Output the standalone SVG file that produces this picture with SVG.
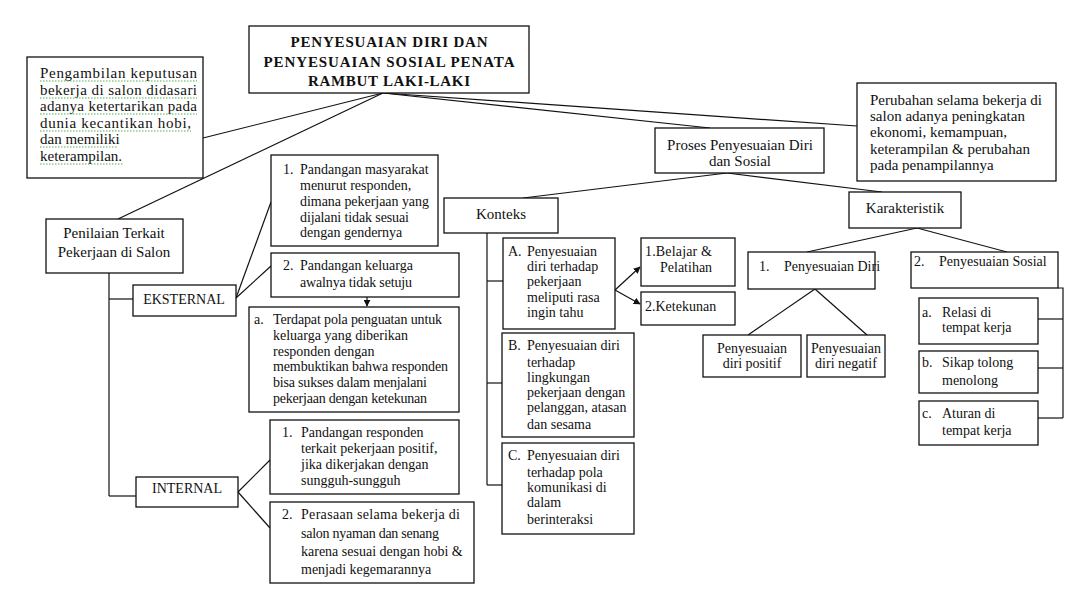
<svg xmlns="http://www.w3.org/2000/svg" width="1090" height="594" viewBox="0 0 1090 594">
<defs>
<style>
rect{fill:#fff;stroke:#111;stroke-width:1.3}
text{font-family:"Liberation Serif","Times New Roman",serif;fill:#111;font-size:14px}
.t15{font-size:15px}
.title{font-size:15px;font-weight:bold}
.c{text-anchor:middle}
#connectors line,#connectors polyline{stroke:#111;stroke-width:1.2;fill:none}
.sp{stroke:#4caf50;stroke-width:1;stroke-dasharray:1.5 1.5;fill:none}
</style>
<marker id="ah" viewBox="0 0 10 10" refX="9" refY="5" markerWidth="7" markerHeight="7" orient="auto" markerUnits="userSpaceOnUse">
<path d="M0,0 L10,5 L0,10 z" fill="#111"/>
</marker>
</defs>
<rect x="0" y="0" width="1090" height="594" style="fill:#fff;stroke:none"/>

<g id="connectors">
<line x1="383" y1="93" x2="203" y2="138"/>
<line x1="383" y1="93" x2="118" y2="219"/>
<line x1="383" y1="93" x2="710" y2="128"/>
<line x1="383" y1="93" x2="857" y2="126"/>
<line x1="727" y1="173" x2="523" y2="198"/>
<line x1="727" y1="173" x2="882" y2="192"/>
<line x1="917" y1="228" x2="807" y2="252"/>
<line x1="917" y1="228" x2="1007" y2="252"/>
<line x1="815" y1="289" x2="748" y2="335"/>
<line x1="815" y1="289" x2="867" y2="335"/>
<polyline points="1058,288 1063,288 1063,418"/>
<line x1="1038" y1="319" x2="1063" y2="319"/>
<line x1="1038" y1="368" x2="1063" y2="368"/>
<line x1="1038" y1="418" x2="1063" y2="418"/>
<line x1="487" y1="233" x2="487" y2="485"/>
<line x1="487" y1="281" x2="503" y2="281"/>
<line x1="487" y1="383" x2="502" y2="383"/>
<line x1="487" y1="485" x2="502" y2="485"/>
<line x1="615" y1="290" x2="640" y2="267" marker-end="url(#ah)"/>
<line x1="615" y1="290" x2="640" y2="304" marker-end="url(#ah)"/>
<line x1="109" y1="273" x2="109" y2="496"/>
<line x1="109" y1="299" x2="133" y2="299"/>
<line x1="109" y1="496" x2="136" y2="496"/>
<line x1="236" y1="298" x2="271" y2="202"/>
<line x1="236" y1="298" x2="271" y2="266"/>
<line x1="238" y1="492" x2="270" y2="460"/>
<line x1="238" y1="492" x2="270" y2="528"/>
<line x1="367" y1="297" x2="367" y2="306" marker-end="url(#ah)"/>
</g>

<g id="title">
<rect x="249" y="26" width="280" height="67"/>
<text class="title c" x="389" y="47" textLength="197" lengthAdjust="spacing">PENYESUAIAN DIRI DAN</text>
<text class="title c" x="389" y="67" textLength="251" lengthAdjust="spacing">PENYESUAIAN SOSIAL PENATA</text>
<text class="title c" x="389" y="86" textLength="162" lengthAdjust="spacing">RAMBUT LAKI-LAKI</text>
</g>

<g id="keputusan">
<rect x="27" y="57" width="176" height="121"/>
<text class="t15" x="40" y="78" textLength="157" lengthAdjust="spacing">Pengambilan keputusan</text>
<text class="t15" x="40" y="95" textLength="157" lengthAdjust="spacing">bekerja di salon didasari</text>
<text class="t15" x="40" y="111" textLength="157" lengthAdjust="spacing">adanya ketertarikan pada</text>
<text class="t15" x="40" y="128" textLength="151" lengthAdjust="spacing">dunia kecantikan hobi,</text>
<text class="t15" x="40" y="144">dan memiliki</text>
<text class="t15" x="40" y="161">keterampilan.</text>
<path class="sp" d="M40,81H197M40,98H197M40,114H197M40,131H191M40,147H117M40,164H123"/>
</g>

<g id="perubahan">
<rect x="857" y="83" width="199" height="98"/>
<text class="t15" x="870" y="105">Perubahan selama bekerja di</text>
<text class="t15" x="870" y="121">salon adanya peningkatan</text>
<text class="t15" x="870" y="137">ekonomi, kemampuan,</text>
<text class="t15" x="870" y="154">keterampilan &amp; perubahan</text>
<text class="t15" x="870" y="170">pada penampilannya</text>
</g>

<g id="proses">
<rect x="655" y="128" width="169" height="45"/>
<text class="t15 c" x="740" y="150">Proses Penyesuaian Diri</text>
<text class="t15 c" x="740" y="166">dan Sosial</text>
</g>

<g id="konteks">
<rect x="444" y="198" width="114" height="35"/>
<text class="t15 c" x="501" y="219">Konteks</text>
</g>

<g id="karakteristik">
<rect x="849" y="192" width="112" height="36"/>
<text class="t15 c" x="905" y="213">Karakteristik</text>
</g>

<g id="penilaian">
<rect x="46" y="219" width="137" height="54"/>
<text class="t15 c" x="114" y="238">Penilaian Terkait</text>
<text class="t15 c" x="114" y="257">Pekerjaan di Salon</text>
</g>

<g id="eksternal">
<rect x="133" y="285" width="103" height="31"/>
<text class="c" x="184" y="304">EKSTERNAL</text>
</g>

<g id="internal">
<rect x="136" y="477" width="102" height="30"/>
<text class="c" x="187" y="493">INTERNAL</text>
</g>

<g id="eks1">
<rect x="271" y="155" width="167" height="91"/>
<text x="283" y="174">1.</text>
<text x="300" y="174">Pandangan masyarakat</text>
<text x="300" y="190">menurut responden,</text>
<text x="300" y="206" textLength="129" lengthAdjust="spacing">dimana pekerjaan yang</text>
<text x="300" y="222" textLength="109" lengthAdjust="spacing">dijalani tidak sesuai</text>
<text x="300" y="237">dengan gendernya</text>
</g>

<g id="eks2">
<rect x="271" y="253" width="188" height="44"/>
<text x="283" y="270">2.</text>
<text x="300" y="270">Pandangan keluarga</text>
<text x="300" y="287" textLength="112" lengthAdjust="spacing">awalnya tidak setuju</text>
</g>

<g id="eksa">
<rect x="249" y="307" width="210" height="105"/>
<text x="254" y="324">a.</text>
<text x="273" y="324" textLength="169" lengthAdjust="spacing">Terdapat pola penguatan untuk</text>
<text x="273" y="340">keluarga yang diberikan</text>
<text x="273" y="356">responden dengan</text>
<text x="273" y="371" textLength="175" lengthAdjust="spacing">membuktikan bahwa responden</text>
<text x="273" y="387" textLength="154" lengthAdjust="spacing">bisa sukses dalam menjalani</text>
<text x="273" y="403" textLength="154" lengthAdjust="spacing">pekerjaan dengan ketekunan</text>
</g>

<g id="int1">
<rect x="270" y="420" width="189" height="74"/>
<text x="282" y="437">1.</text>
<text x="301" y="437">Pandangan responden</text>
<text x="301" y="453">terkait pekerjaan positif,</text>
<text x="301" y="469">jika dikerjakan dengan</text>
<text x="301" y="485">sungguh-sungguh</text>
</g>

<g id="int2">
<rect x="270" y="502" width="204" height="81"/>
<text x="282" y="519">2.</text>
<text x="301" y="519" textLength="159" lengthAdjust="spacing">Perasaan selama bekerja di</text>
<text x="301" y="538" textLength="138" lengthAdjust="spacing">salon nyaman dan senang</text>
<text x="301" y="556">karena sesuai dengan hobi &amp;</text>
<text x="301" y="574">menjadi kegemarannya</text>
</g>

<g id="kA">
<rect x="503" y="238" width="112" height="91"/>
<text x="508" y="256">A.</text>
<text x="527" y="256">Penyesuaian</text>
<text x="527" y="271">diri terhadap</text>
<text x="527" y="286">pekerjaan</text>
<text x="527" y="302">meliputi rasa</text>
<text x="527" y="317">ingin tahu</text>
</g>

<g id="kB">
<rect x="502" y="333" width="132" height="104"/>
<text x="508" y="350">B.</text>
<text x="527" y="350">Penyesuaian diri</text>
<text x="527" y="367">terhadap</text>
<text x="527" y="382">lingkungan</text>
<text x="527" y="397">pekerjaan dengan</text>
<text x="527" y="412">pelanggan, atasan</text>
<text x="527" y="429">dan sesama</text>
</g>

<g id="kC">
<rect x="502" y="443" width="132" height="91"/>
<text x="508" y="460">C.</text>
<text x="527" y="460">Penyesuaian diri</text>
<text x="527" y="477">terhadap pola</text>
<text x="527" y="492">komunikasi di</text>
<text x="527" y="507">dalam</text>
<text x="527" y="524">berinteraksi</text>
</g>

<g id="belajar">
<rect x="641" y="238" width="94" height="48"/>
<text x="645" y="256" textLength="67" lengthAdjust="spacing">1.Belajar &amp;</text>
<text x="660" y="272">Pelatihan</text>
</g>

<g id="ketekunan">
<rect x="641" y="292" width="94" height="33"/>
<text x="645" y="311">2.Ketekunan</text>
</g>

<g id="diri">
<rect x="748" y="252" width="127" height="37"/>
<text x="759" y="271">1.</text>
<text x="784" y="271">Penyesuaian Diri</text>
</g>

<g id="sosial">
<rect x="911" y="252" width="147" height="36"/>
<text x="914" y="266">2.</text>
<text x="939" y="266">Penyesuaian Sosial</text>
</g>

<g id="positif">
<rect x="703" y="335" width="98" height="42"/>
<text class="c" x="752" y="353">Penyesuaian</text>
<text class="c" x="752" y="368">diri positif</text>
</g>

<g id="negatif">
<rect x="807" y="335" width="78" height="42"/>
<text class="c" x="846" y="353">Penyesuaian</text>
<text class="c" x="846" y="368">diri negatif</text>
</g>

<g id="sa">
<rect x="919" y="298" width="119" height="46"/>
<text x="922" y="317">a.</text>
<text x="942" y="317">Relasi di</text>
<text x="942" y="332">tempat kerja</text>
</g>

<g id="sb">
<rect x="919" y="351" width="119" height="42"/>
<text x="922" y="367">b.</text>
<text x="942" y="367">Sikap tolong</text>
<text x="942" y="385">menolong</text>
</g>

<g id="sc">
<rect x="919" y="401" width="119" height="44"/>
<text x="922" y="418">c.</text>
<text x="942" y="418">Aturan di</text>
<text x="942" y="435">tempat kerja</text>
</g>
</svg>
